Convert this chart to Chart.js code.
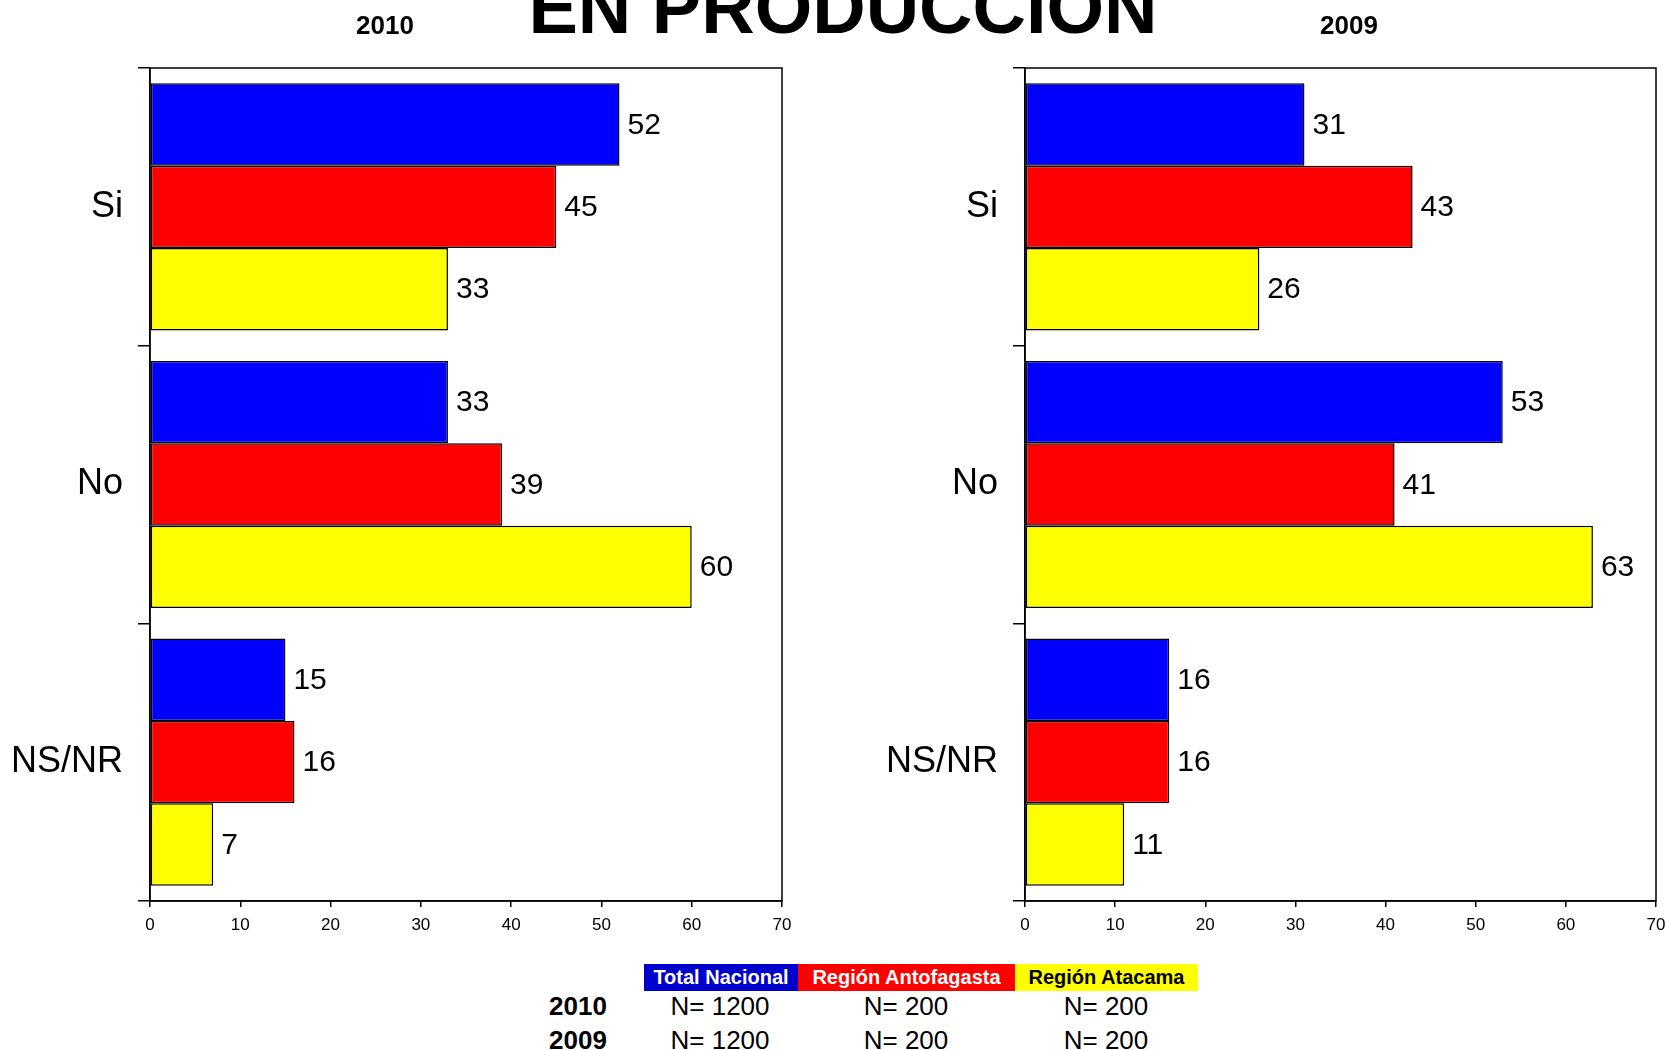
<!DOCTYPE html>
<html>
<head>
<meta charset="utf-8">
<script src="https://cdn.jsdelivr.net/npm/chart.js@4"></script>
<style>
  html, body { margin: 0; padding: 0; background: #fff; overflow: hidden; }
  body { width: 1666px; height: 1050px; position: relative; font-family: Arial, "Liberation Sans", sans-serif; }
  canvas { position: absolute; top: 0; }
  .txt { position: absolute; color: #000; white-space: nowrap; transform: translateX(-50%); }
  .box { position: absolute; top: 964px; height: 27px; font-weight: bold; font-size: 20px; line-height: 27px; text-align: center; }
</style>
</head>
<body>
<canvas id="chart2010" width="820" height="960" style="left:0"></canvas>
<canvas id="chart2009" width="850" height="960" style="left:850px"></canvas>

<div class="txt" style="left:843px; top:-35px; font-size:74px; font-weight:bold;">EN PRODUCCION</div>
<div class="txt" style="left:385px; top:10px; font-size:26px; font-weight:bold;">2010</div>
<div class="txt" style="left:1349px; top:10px; font-size:26px; font-weight:bold;">2009</div>

<div class="box" style="left:644px; width:154px; background:#0000cc; color:#fff;">Total Nacional</div>
<div class="box" style="left:798px; width:217px; background:#ff0000; color:#fff;">Región Antofagasta</div>
<div class="box" style="left:1015px; width:183px; background:#ffff00; color:#000;">Región Atacama</div>

<div class="txt" style="left:578px; top:991px; font-size:26px; font-weight:bold;">2010</div>
<div class="txt" style="left:720px; top:991px; font-size:26px;">N= 1200</div>
<div class="txt" style="left:906px; top:991px; font-size:26px;">N= 200</div>
<div class="txt" style="left:1106px; top:991px; font-size:26px;">N= 200</div>
<div class="txt" style="left:578px; top:1025px; font-size:26px; font-weight:bold;">2009</div>
<div class="txt" style="left:720px; top:1025px; font-size:26px;">N= 1200</div>
<div class="txt" style="left:906px; top:1025px; font-size:26px;">N= 200</div>
<div class="txt" style="left:1106px; top:1025px; font-size:26px;">N= 200</div>

<script>
const categories = ["Si", "No", "NS/NR"];
const seriesNames = ["Total Nacional", "Región Antofagasta", "Región Atacama"];
const barColors = ["#0000ff", "#ff0000", "#ffff00"];
const xTicks = [0, 10, 20, 30, 40, 50, 60, 70];

const total2010 = [52, 33, 15];
const antofagasta2010 = [45, 39, 16];
const atacama2010 = [33, 60, 7];

const total2009 = [31, 53, 16];
const antofagasta2009 = [43, 41, 16];
const atacama2009 = [26, 63, 11];

// value next to every bar + frame around plot
const barLabels = {
    id: "barLabels",
    afterDatasetsDraw(chart) {
        const ctx = chart.ctx;
        ctx.save();
        ctx.font = "30px Arial, 'Liberation Sans', sans-serif";
        ctx.fillStyle = "#000";
        ctx.textBaseline = "middle";
        chart.data.datasets.forEach((ds, i) => {
            chart.getDatasetMeta(i).data.forEach((bar, j) => {
                ctx.fillText(ds.data[j], bar.x + 8, bar.y + 1);
            });
        });
        const a = chart.chartArea;
        ctx.strokeStyle = "#000";
        ctx.lineWidth = 1.5;
        ctx.strokeRect(a.left, a.top, a.right - a.left, a.bottom - a.top);
        ctx.restore();
    }
};

function makeChart(id, values, yWidth, padRight) {
    const conf = {
        type: "bar",
        data: {
            labels: categories,
            datasets: values.map((v, i) => ({
                label: seriesNames[i],
                data: v,
                backgroundColor: barColors[i],
                borderColor: "#000",
                borderWidth: 1.5,
                borderSkipped: false,
                barPercentage: 1,
                categoryPercentage: 0.89
            }))
        },
        options: {
            indexAxis: "y",
            responsive: false,
            animation: false,
            devicePixelRatio: 1,
            layout: { padding: { top: 68, right: padRight, left: 0, bottom: 0 } },
            plugins: { legend: { display: false }, tooltip: { enabled: false } },
            scales: {
                x: {
                    min: 0,
                    max: 70,
                    afterBuildTicks: (scale) => { scale.ticks = xTicks.map(v => ({ value: v })); },
                    afterFit: (scale) => { scale.height = 59; },
                    grid: { drawOnChartArea: false, tickLength: 6, color: "#000", lineWidth: 1.5 },
                    border: { color: "#000", width: 1.5 },
                    ticks: {
                        color: "#000",
                        padding: 8,
                        font: { family: "'Liberation Sans Narrow', 'Arial Narrow', Arial, sans-serif", size: 17 }
                    }
                },
                y: {
                    offset: true,
                    afterFit: (scale) => { scale.width = yWidth; },
                    grid: { offset: true, drawOnChartArea: false, tickLength: 12, color: "#000", lineWidth: 1.5 },
                    border: { color: "#000", width: 1.5 },
                    ticks: {
                        color: "#000",
                        padding: 15,
                        font: { family: "Arial, 'Liberation Sans', sans-serif", size: 36 }
                    }
                }
            }
        },
        plugins: [barLabels]
    };
    return new Chart(document.getElementById(id), conf);
}

makeChart("chart2010", [total2010, antofagasta2010, atacama2010], 150, 38);
makeChart("chart2009", [total2009, antofagasta2009, atacama2009], 175, 44);
</script>
</body>
</html>
